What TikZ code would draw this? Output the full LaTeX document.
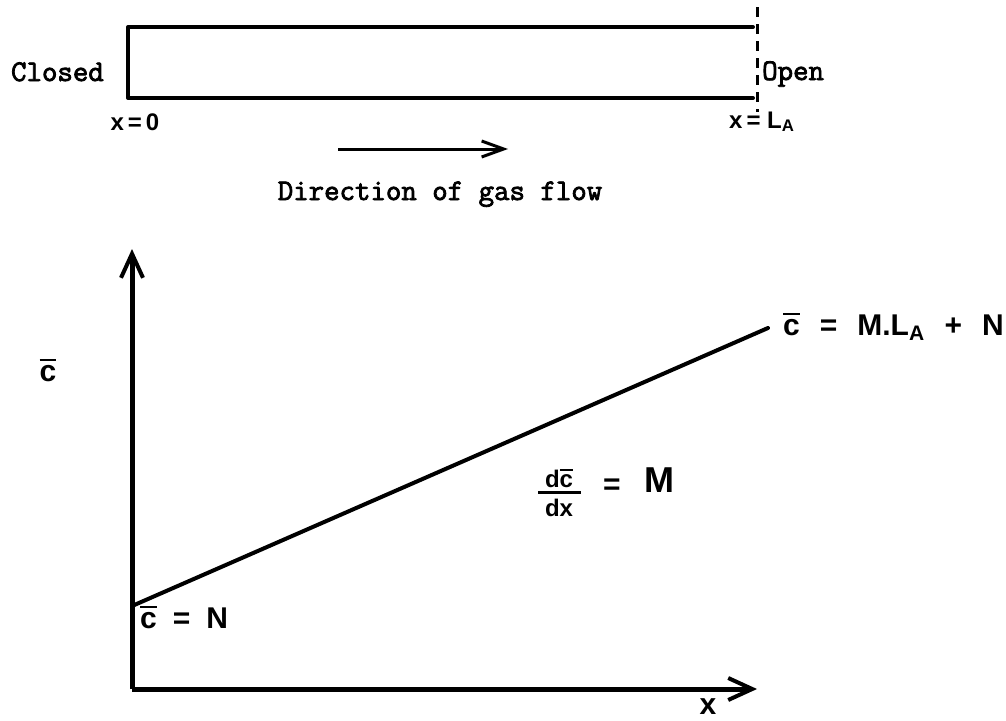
\documentclass[tikz,border=0pt]{standalone}
\usepackage{fontspec}
\setmainfont{Liberation Serif}
\newfontfamily\tw{Latin Modern Mono}[FakeBold=2.6]
\newfontfamily\hw{Liberation Sans}
\usetikzlibrary{arrows.meta}
\newcommand\cbar{\vbox{\hrule height 0.09em\kern0.12em\hbox{c}}}
\begin{document}
\begin{tikzpicture}[x=1pt,y=-1pt,
  ink/.style={line width=4pt,line cap=round,line join=round},
  typed/.style={font=\tw\bfseries\fontsize{30}{34}\selectfont,inner sep=0pt},
  hand/.style={font=\hw\bfseries\fontsize{30}{34}\selectfont,inner sep=0pt},
  handsm/.style={font=\hw\bfseries\fontsize{24}{26}\selectfont,inner sep=0pt},
  barb/.style={-{Straight Barb[length=24pt,width=22pt,line width=4pt]}}
]
\useasboundingbox (0,0) rectangle (1006,720);
% tube
\coordinate (tr) at (753,27);
\coordinate (tl) at (128,27);
\coordinate (bl) at (128,98);
\coordinate (br) at (753,98);
\draw[ink] (tr) -- (tl) -- (bl) -- (br);
\coordinate (dtop) at (757,7);
\coordinate (dbot) at (757,112);
\draw[line width=3pt,dash pattern=on 10pt off 7pt] (dtop) -- (dbot);
\node[typed,anchor=base east] (closed) at (104,81) {Closed};
\node[typed,anchor=base west] (open) at (762,80) {Open};
\node[handsm,anchor=base] (x0) at (135,130) {x\,=\,0};
\node[handsm,anchor=base west] (xl) at (729,128) {x\,=\;L\textsubscript{A}};
% flow arrow
\coordinate (fa) at (338,149);
\coordinate (fb) at (508,149);
\draw[line width=3pt,-{Straight Barb[length=22pt,width=16pt,line width=3pt]}] (fa) -- (fb);
\node[typed,anchor=base] (dir) at (440,200) {Direction of gas flow};
% axes
\coordinate (o) at (132,689);
\coordinate (ytop) at (132,249);
\coordinate (xend) at (757,689);
\draw[line width=5pt,barb] (o) -- (ytop);
\draw[line width=5pt,barb] (o) -- (xend);
% line
\coordinate (ls) at (132,606);
\coordinate (le) at (768,328);
\draw[ink] (ls) -- (le);
% labels
\node[hand] (ylab) at (48,370) {\cbar};
\node[hand,anchor=base west] (top) at (783,335) {\cbar\hspace{20pt}=\hspace{20pt}M.L\textsubscript{A}\hspace{20pt}+\hspace{20pt}N};
\node[hand,anchor=base west] (cn) at (140,628) {\cbar\hspace{16pt}=\hspace{16pt}N};
\node[hand,anchor=base] (xl2) at (708,714) {x};
\node[handsm,anchor=base] (frac) at (559,487) {d\cbar};
\coordinate (fl) at (538,492);
\coordinate (fr) at (581,492);
\draw[line width=3pt] (fl) -- (fr);
\node[handsm,anchor=base] (den) at (559,516) {dx};
\node[hand,anchor=base] (eq) at (612,494) {=};
\node[hand,anchor=base,font=\hw\bfseries\fontsize{36}{38}\selectfont] (m) at (659,492) {M};
\end{tikzpicture}
\end{document}
